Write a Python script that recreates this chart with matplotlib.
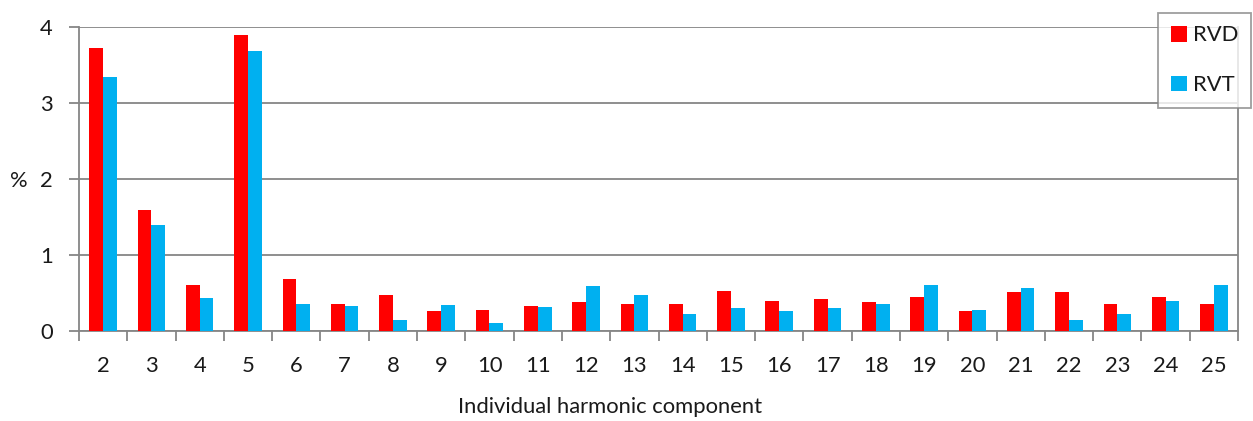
import matplotlib
matplotlib.use("Agg")
import matplotlib.pyplot as plt
from matplotlib.patches import Patch
import numpy as np

plt.rcParams['font.family'] = ['Lato', 'DejaVu Sans']

harmonics = [str(h) for h in range(2, 26)]
rvd = [3.73, 1.59, 0.61, 3.90, 0.68, 0.36, 0.47, 0.27, 0.28, 0.33, 0.38, 0.36,
       0.36, 0.53, 0.40, 0.42, 0.38, 0.45, 0.27, 0.52, 0.52, 0.36, 0.45, 0.35]
rvt = [3.35, 1.39, 0.43, 3.69, 0.35, 0.33, 0.15, 0.34, 0.11, 0.32, 0.59, 0.47,
       0.22, 0.30, 0.26, 0.30, 0.35, 0.61, 0.28, 0.57, 0.14, 0.22, 0.40, 0.61]
series_names = ["RVD", "RVT"]
colors = ["#FF0000", "#00B0F0"]
grid_color = "#868686"
fs = 15.8
txt_color = '#1a1a1a'

W, H = 1253, 421
fig = plt.figure(figsize=(W / 100, H / 100), dpi=100)
ax = fig.add_axes([79 / W, 1 - 331 / H, (1238 - 79) / W, (331 - 27.3) / H])

x = np.arange(len(harmonics))
bw = 0.285
ax.bar(x - bw / 2, rvd, width=bw, color=colors[0], zorder=3, label=series_names[0])
ax.bar(x + bw / 2, rvt, width=bw, color=colors[1], zorder=3, label=series_names[1])

ax.set_xlim(-0.5, len(harmonics) - 0.5)
ax.set_ylim(0, 4)
ax.set_yticks([0, 1, 2, 3, 4])
ax.yaxis.grid(True, color=grid_color, linewidth=1.3, zorder=0)
ax.set_axisbelow(True)

ax.set_xticks(x)
ax.set_xticklabels(harmonics)
ax.set_xticks(np.arange(-0.5, len(harmonics) + 0.5, 1), minor=True)
ax.tick_params(axis='x', which='major', length=0, pad=18, labelsize=fs, labelcolor=txt_color)
ax.tick_params(axis='x', which='minor', length=7, width=1.3, color=grid_color, direction='out')
ax.tick_params(axis='y', which='major', length=7, width=1.3, color=grid_color, pad=12,
               labelsize=fs, labelcolor=txt_color)

for side in ['left', 'right', 'bottom']:
    ax.spines[side].set_color(grid_color)
    ax.spines[side].set_linewidth(1.3)
ax.spines['top'].set_visible(False)

fig.text(19 / W, 1 - 181 / H, "%", fontsize=fs, ha='center', va='center', color=txt_color)
fig.text(610 / W, 1 - 407 / H, "Individual harmonic component", fontsize=fs,
         ha='center', va='center', color=txt_color)

handles = [Patch(facecolor=c, edgecolor='none') for c in colors]
leg = fig.legend(handles, series_names, loc='upper left',
                 bbox_to_anchor=(1158 / W, 1 - 12.7 / H),
                 frameon=True, fancybox=False, fontsize=fs,
                 handlelength=0.72, handleheight=0.72, handletextpad=0.28,
                 labelspacing=1.35, borderpad=0.58, borderaxespad=0)
leg.get_frame().set_edgecolor(grid_color)
leg.get_frame().set_linewidth(1.3)
for t in leg.get_texts():
    t.set_color(txt_color)

fig.savefig("out.png", dpi=100)
